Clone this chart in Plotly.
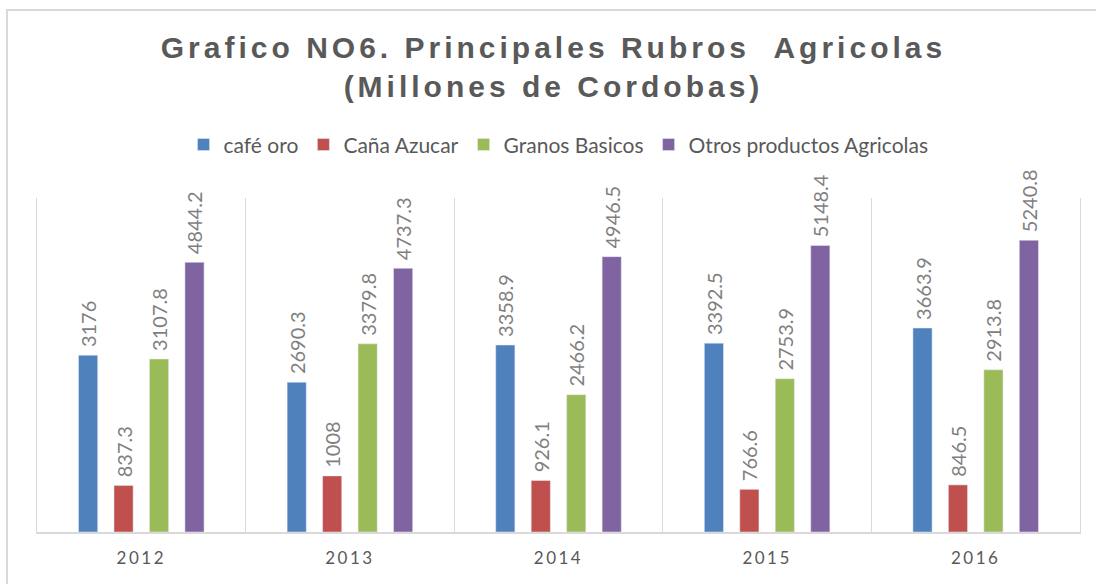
import plotly.graph_objects as go

# data
years = ["2012", "2013", "2014", "2015", "2016"]
cafe_oro = [3176, 2690.3, 3358.9, 3392.5, 3663.9]
cana_azucar = [837.3, 1008, 926.1, 766.6, 846.5]
granos_basicos = [3107.8, 3379.8, 2466.2, 2753.9, 2913.8]
otros_productos = [4844.2, 4737.3, 4946.5, 5148.4, 5240.8]

series = [
    ("café oro", cafe_oro, "#4f81bd"),
    ("Caña Azucar", cana_azucar, "#c0504d"),
    ("Granos Basicos", granos_basicos, "#9bbb59"),
    ("Otros productos Agricolas", otros_productos, "#8064a2"),
]

fig = go.Figure()
for name, vals, col in series:
    fig.add_trace(go.Bar(
        x=years, y=vals, name=name,
        marker=dict(color=col),
        # leading nbsp keeps a little gap between the bar and its rotated label
        text=["\u00a0" + f"{v:g}" for v in vals],
        textposition="outside",
        textangle=-90,
        constraintext="none",
        cliponaxis=False,
        textfont=dict(family="Lato", size=20, color="#7f7f7f"),
    ))

fig.update_layout(
    width=1096, height=584,
    margin=dict(l=37, r=16, t=198, b=52),
    paper_bgcolor="white", plot_bgcolor="white",
    barmode="group", bargap=0.32, bargroupgap=0.46,
    title=dict(
        text="Grafico NO6. Principales Rubros  Agricolas<br>(Millones de Cordobas)",
        x=0.505, xanchor="center", y=0.9, yanchor="top",
        font=dict(family="Liberation Sans", size=30, color="#595959", weight="bold"),
    ),
    legend=dict(
        orientation="h", x=0.5, xanchor="center", y=1.159, yanchor="middle",
        font=dict(family="Lato", size=21, color="#595959"),
        itemwidth=30,
    ),
    showlegend=True,
)

fig.update_xaxes(
    type="category", tickson="boundaries", showgrid=True, gridcolor="#d9d9d9", gridwidth=1,
    showline=True, linecolor="#d9d9d9", linewidth=2, ticks="",
    ticklabelstandoff=10,
    tickfont=dict(family="Lato", size=17, color="#595959"),
)
fig.update_yaxes(range=[0, 6000], showticklabels=False, showgrid=False, zeroline=False,
                 showline=True, mirror=True, linecolor="#d9d9d9", linewidth=1, ticks="")

# outer chart border
fig.add_shape(type="rect", xref="paper", yref="paper",
              x0=-0.0288, x1=1.1, y0=-0.25, y1=1.563,
              line=dict(color="#d9d9d9", width=2), fillcolor="rgba(0,0,0,0)", layer="below")

post = """
document.body.style.margin='0';
document.querySelectorAll('.gtitle').forEach(function(e){e.style.letterSpacing='4px';});
document.querySelectorAll('.xtick text').forEach(function(e){e.style.letterSpacing='2.5px';});
"""
fig.write_html("out.html", post_script=post, config={"displayModeBar": False})
